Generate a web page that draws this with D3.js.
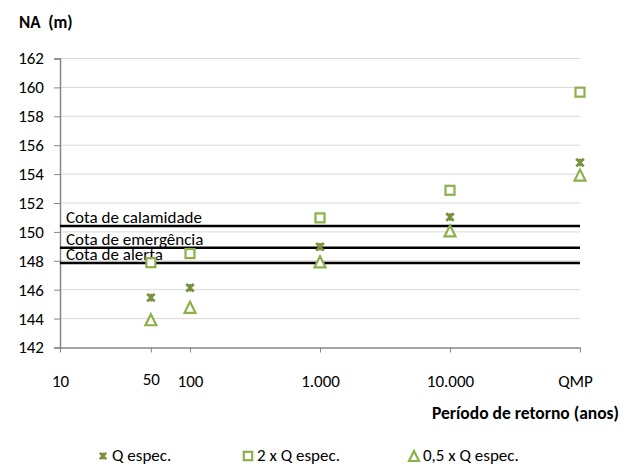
<!DOCTYPE html>
<html><head><meta charset="utf-8">
<script src="https://cdn.jsdelivr.net/npm/d3@7"></script>
<style>body{margin:0;background:#fff}svg{display:block}text{font-family:Carlito,"Liberation Sans Narrow",Lato,sans-serif}</style>
</head><body>
<svg id="c" width="631" height="470"></svg>
<script>
const xTickValues = [10, 50, 100, 1000, 10000, 100000];
const xTickLabels = ["10", "50", "100", "1.000", "10.000", "QMP"];
const periods = [50, 100, 1000, 10000, 100000];
const qEspec = [145.45, 146.13, 148.97, 151.03, 154.8];
const q2x = [147.87, 148.5, 150.97, 152.88, 159.67];
const q05x = [143.92, 144.78, 147.93, 150.07, 153.93];
const refNames = ["Cota de calamidade", "Cota de emergência", "Cota de alerta"];
const refValues = [150.4, 148.9, 147.85];
const yTicks = [142, 144, 146, 148, 150, 152, 154, 156, 158, 160, 162];
const seriesNames = ["Q espec.", "2 x Q espec.", "0,5 x Q espec."];

const svg = d3.select("#c");
const x = d3.scaleLog().domain([10, 100000]).range([60, 580]);
const y = d3.scaleLinear().domain([142, 162]).range([347.5, 58.5]);
const dark = "#77933C", light = "#8DB04A";

// gridlines
svg.append("g").selectAll("line").data(yTicks.slice(1)).join("line")
  .attr("x1", 60).attr("x2", 580).attr("y1", d => y(d)).attr("y2", d => y(d))
  .attr("stroke", "#D9D9D9").attr("stroke-width", 1);

// y axis
const ya = svg.append("g").attr("transform", "translate(60,0)")
  .call(d3.axisLeft(y).tickValues(yTicks).tickSize(6).tickPadding(10).tickFormat(d3.format("d")));
ya.select(".domain").attr("stroke", "#868686").attr("stroke-width", 1.5);
ya.selectAll(".tick line").attr("stroke", "#868686");
ya.selectAll(".tick text").attr("font-size", 17).attr("fill", "#000").attr("font-family", null);

// x axis
const xa = svg.append("g").attr("transform", "translate(0,347.5)")
  .call(d3.axisBottom(x).tickValues(xTickValues).tickSize(5).tickSizeOuter(0)
    .tickFormat((d, i) => xTickLabels[i]));
xa.select(".domain").attr("stroke", "#868686").attr("stroke-width", 1.5);
xa.selectAll(".tick line").attr("stroke", "#868686");
xa.selectAll(".tick text").attr("font-size", 17).attr("fill", "#000").attr("font-family", null)
  .attr("dy", null).attr("y", (d, i) => i === 1 ? 37.5 : 39.5)
  .attr("x", (d, i) => i === 5 ? -5 : 0);

// reference lines
svg.append("g").selectAll("line").data(refValues).join("line")
  .attr("x1", 60).attr("x2", 580).attr("y1", d => y(d)).attr("y2", d => y(d))
  .attr("stroke", "#000").attr("stroke-width", 2.5);
svg.append("g").selectAll("text").data(refNames).join("text")
  .attr("x", 66).attr("y", (d, i) => y(refValues[i]) - 3)
  .attr("font-size", 17).attr("fill", "#000").text(d => d);

// markers
const starPath = s => `M${-s},${-s}L${s},${s}M${-s},${s}L${s},${-s}M0,${-s}L0,${s}`;
function star(g, cx, cy, s) {
  g.append("path").attr("transform", `translate(${cx},${cy})`).attr("d", starPath(s))
    .attr("stroke", dark).attr("stroke-width", 2.6).attr("fill", "none");
}
function square(g, cx, cy, s) {
  g.append("rect").attr("x", cx - s).attr("y", cy - s).attr("width", 2 * s).attr("height", 2 * s)
    .attr("stroke", light).attr("stroke-width", 2.2).attr("fill", "#fff");
}
function tri(g, cx, cy, s) {
  g.append("path").attr("transform", `translate(${cx},${cy})`)
    .attr("d", `M0,${-s}L${s},${s}L${-s},${s}Z`)
    .attr("stroke", light).attr("stroke-width", 2.2).attr("fill", "#fff").attr("stroke-linejoin", "miter");
}
const mg = svg.append("g");
periods.forEach((p, i) => square(mg, x(p), y(q2x[i]), 4.5));
periods.forEach((p, i) => tri(mg, x(p), y(q05x[i]), 5.5));
periods.forEach((p, i) => star(mg, x(p), y(qEspec[i]), 3.8));

// titles
svg.append("text").attr("x", 19).attr("y", 28).attr("font-size", 17).attr("font-weight", "bold")
  .attr("xml:space", "preserve").style("white-space", "pre").text("NA  (m)");
svg.append("text").attr("x", 619).attr("y", 419).attr("text-anchor", "end")
  .attr("font-size", 17.5).attr("font-weight", "bold").text("Período de retorno (anos)");

// legend
const lg = svg.append("g");
const legX = [103, 248, 414];
star(lg, legX[0], 456, 3.2);
square(lg, legX[1], 456, 4.2);
tri(lg, legX[2], 456, 5);
lg.selectAll("text").data(seriesNames).join("text")
  .attr("x", (d, i) => legX[i] + 9).attr("y", 461).attr("font-size", 17).text(d => d);
</script>
</body></html>
